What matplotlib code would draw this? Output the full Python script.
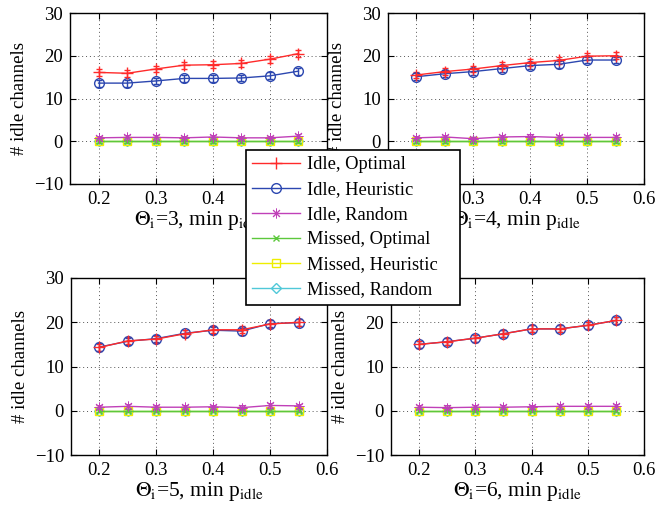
import matplotlib
matplotlib.use("Agg")
import matplotlib.pyplot as plt
import numpy as np

plt.rcParams['font.family'] = ['Liberation Serif', 'DejaVu Serif']
plt.rcParams['mathtext.fontset'] = 'stix'
plt.rcParams['font.size'] = 12

x = [0.2, 0.25, 0.3, 0.35, 0.4, 0.45, 0.5, 0.55]
thetas = [3, 4, 5, 6]

labels = ["Idle, Optimal", "Idle, Heuristic", "Idle, Random",
          "Missed, Optimal", "Missed, Heuristic", "Missed, Random"]

# values per panel (Theta=3,4,5,6)
idle_opt = [
    [16.1, 15.9, 16.9, 17.8, 17.9, 18.2, 19.2, 20.5],
    [15.5, 16.3, 16.9, 17.7, 18.4, 18.9, 19.9, 20.0],
    [14.3, 15.8, 16.2, 17.4, 18.3, 18.3, 19.6, 20.0],
    [15.0, 15.6, 16.4, 17.4, 18.5, 18.5, 19.3, 20.4],
]
idle_heur = [
    [13.6, 13.6, 14.1, 14.7, 14.7, 14.8, 15.3, 16.4],
    [15.1, 15.8, 16.3, 17.0, 17.7, 18.0, 19.0, 19.0],
    [14.4, 15.7, 16.3, 17.5, 18.2, 18.0, 19.7, 19.9],
    [15.0, 15.6, 16.4, 17.4, 18.5, 18.5, 19.3, 20.4],
]
idle_rand = [
    [0.8, 0.9, 0.9, 0.8, 1.0, 0.8, 0.8, 1.2],
    [0.8, 1.0, 0.6, 1.0, 1.1, 0.9, 0.9, 0.9],
    [0.8, 1.0, 0.8, 0.8, 0.9, 0.7, 1.2, 1.1],
    [0.8, 0.7, 0.8, 0.8, 0.9, 1.0, 1.0, 1.0],
]
missed_opt = [[0.0] * 8 for _ in range(4)]
missed_heur = [[0.0] * 8 for _ in range(4)]
missed_rand = [[0.0] * 8 for _ in range(4)]

err_idle = 0.8
err_rand = 0.5
err_missed = 0.3

colors = ['#ff2a2a', '#2c47b0', '#c040b8', '#5cc83c', '#eeee00', '#50c8d8']
markers = ['+', 'o', (8, 2, 0), 'x', 's', 'D']
msizes = [8, 7, 7, 5, 5.5, 5]
mews = [1.0, 1.0, 0.7, 1.0, 1.0, 1.0]
errs = [err_idle, err_idle, err_rand, err_missed, err_missed, err_missed]

fig = plt.figure(figsize=(6.57, 5.12), dpi=100)
W, H = 657, 512
boxes = [(70, 13, 327, 184), (388, 13, 644, 184),
         (71, 278, 327, 455), (391, 278, 644, 455)]

handles = []
for p in range(4):
    l, t, r, b = boxes[p]
    ax = fig.add_axes([l / W, 1 - b / H, (r - l) / W, (b - t) / H])
    series = [idle_opt[p], idle_heur[p], idle_rand[p],
              missed_opt[p], missed_heur[p], missed_rand[p]]
    for k in range(6):
        yv = series[k]
        eb = ax.errorbar(x, yv, yerr=[errs[k]] * len(x), color=colors[k],
                         marker=markers[k], markersize=msizes[k],
                         markeredgewidth=mews[k],
                         markerfacecolor='none', markeredgecolor=colors[k],
                         linewidth=1.0, elinewidth=1.0, capsize=2,
                         label=labels[k], zorder=3 + (6 - k) * 0.1)
        if p == 0:
            handles.append(eb.lines[0])
    ax.set_xlim(0.15, 0.6)
    ax.set_ylim(-10, 30)
    ax.set_xticks([0.2, 0.3, 0.4, 0.5, 0.6])
    ax.set_yticks([-10, 0, 10, 20, 30])
    ax.set_xticklabels(['0.2', '0.3', '0.4', '0.5', '0.6'])
    ax.set_yticklabels(['\u221210', '0', '10', '20', '30'])
    ax.grid(True, linestyle=(0, (1, 3)), color='#555555', linewidth=0.7)
    ax.tick_params(direction='in', top=True, right=True, labelsize=13.5,
                   length=4, width=0.8, pad=5)
    for s in ax.spines.values():
        s.set_linewidth(1.0)
    ax.set_xlabel(r"$\Theta_\mathrm{i}$=%d, min p$_\mathrm{idle}$" % thetas[p],
                  fontsize=15.5, labelpad=1)
    ax.set_ylabel("# idle channels", fontsize=13.5, labelpad=4)

leg = fig.legend(handles, labels, loc='upper left',
                 bbox_to_anchor=(246 / W, 0, (460 - 246) / W, 1 - 150 / H),
                 mode='expand',
                 fontsize=13.3, frameon=True, fancybox=False, framealpha=1,
                 edgecolor='black', handlelength=2.6, borderpad=0.35,
                 labelspacing=0.43, handletextpad=0.35, borderaxespad=0)
leg.get_frame().set_linewidth(1.2)
leg.set_zorder(10)

fig.savefig("out.png", dpi=100)
